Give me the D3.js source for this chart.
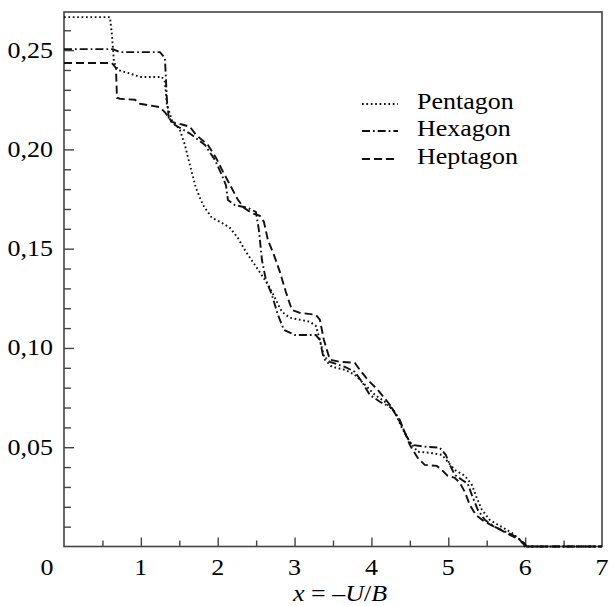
<!DOCTYPE html>
<html lang="en">
    <head>
        <meta charset="utf-8">
        <title>Polygon curves</title>
        <style>
            body {
                margin: 0;
                background-color: white;
            }
            svg {
                display: block;
                font-family: "Liberation Serif", "Times New Roman", serif;
            }
        </style>
        <script src="https://d3js.org/d3.v7.min.js"></script>
    </head>
    <body></body>
    <script>

        // values
        let pentagonX = [0, 0.598, 0.624, 0.65, 0.702, 0.832, 0.988, 1.274, 1.313, 1.339, 1.404, 1.508, 1.573, 1.638, 1.716, 1.808, 1.925, 2.055, 2.159, 2.263, 2.367, 2.484, 2.588, 2.679, 2.757, 2.835, 2.939, 3.069, 3.199, 3.277, 3.329, 3.394, 3.485, 3.654, 3.784, 3.914, 4.044, 4.174, 4.304, 4.395, 4.499, 4.603, 4.759, 4.915, 4.993, 5.084, 5.215, 5.306, 5.371, 5.436, 5.54, 5.67, 5.826, 5.93, 5.995, 7]
        let pentagonY = [0.2666, 0.2666, 0.2576, 0.244, 0.24, 0.2385, 0.2365, 0.2365, 0.234, 0.2224, 0.2148, 0.2098, 0.2022, 0.1922, 0.1806, 0.172, 0.1655, 0.163, 0.1605, 0.1554, 0.1484, 0.1418, 0.1358, 0.1303, 0.1242, 0.1182, 0.1152, 0.1142, 0.1132, 0.1111, 0.1041, 0.0941, 0.0905, 0.089, 0.0865, 0.0815, 0.0764, 0.0729, 0.0678, 0.0598, 0.0527, 0.0477, 0.0472, 0.0462, 0.0427, 0.0386, 0.0356, 0.0311, 0.0245, 0.0185, 0.0134, 0.0104, 0.0069, 0.0034, 0, 0]

        let hexagonX = [0, 0.637, 0.728, 1.248, 1.313, 1.339, 1.365, 1.443, 1.638, 1.834, 1.964, 2.055, 2.107, 2.133, 2.224, 2.393, 2.497, 2.536, 2.575, 2.627, 2.705, 2.783, 2.861, 3.004, 3.277, 3.329, 3.368, 3.459, 3.654, 3.784, 3.875, 3.979, 4.109, 4.265, 4.369, 4.447, 4.525, 4.694, 4.889, 4.967, 5.02, 5.084, 5.176, 5.254, 5.306, 5.384, 5.475, 5.605, 5.774, 5.904, 5.995, 6.02, 7]
        let hexagonY = [0.2505, 0.2505, 0.249, 0.249, 0.246, 0.225, 0.215, 0.2123, 0.208, 0.2022, 0.1947, 0.187, 0.182, 0.1745, 0.172, 0.1705, 0.1685, 0.1594, 0.1444, 0.1343, 0.1267, 0.1167, 0.1091, 0.1065, 0.1065, 0.1041, 0.0965, 0.093, 0.0905, 0.088, 0.083, 0.0764, 0.0729, 0.0698, 0.0638, 0.0562, 0.0512, 0.0503, 0.0498, 0.0462, 0.0411, 0.0361, 0.0336, 0.0316, 0.026, 0.0185, 0.0134, 0.0099, 0.0069, 0.0044, 0.0014, 0, 0]

        let heptagonX = [0, 0.624, 0.676, 0.689, 0.728, 0.923, 0.988, 1.248, 1.313, 1.404, 1.547, 1.638, 1.716, 1.873, 1.977, 2.068, 2.159, 2.263, 2.341, 2.445, 2.549, 2.601, 2.653, 2.731, 2.809, 2.887, 2.965, 3.069, 3.277, 3.329, 3.381, 3.459, 3.589, 3.784, 3.849, 3.953, 4.083, 4.239, 4.343, 4.421, 4.499, 4.603, 4.694, 4.85, 4.915, 4.993, 5.084, 5.15, 5.215, 5.28, 5.358, 5.475, 5.605, 5.8, 5.93, 6.008, 7]
        let heptagonY = [0.2435, 0.2435, 0.241, 0.226, 0.2255, 0.225, 0.223, 0.2213, 0.2187, 0.2138, 0.2124, 0.2114, 0.2074, 0.2022, 0.1958, 0.1888, 0.1822, 0.1746, 0.1706, 0.1679, 0.1665, 0.1635, 0.1544, 0.1469, 0.1383, 0.1282, 0.1192, 0.1177, 0.1167, 0.1142, 0.1041, 0.0941, 0.093, 0.0925, 0.089, 0.0839, 0.0789, 0.0714, 0.0648, 0.0588, 0.0512, 0.0446, 0.0411, 0.0406, 0.0386, 0.0356, 0.0346, 0.0321, 0.0275, 0.021, 0.0159, 0.0124, 0.0099, 0.0059, 0.0034, 0, 0]

        let seriesNames = ["Pentagon", "Hexagon", "Heptagon"]
        let xTickLabels = [1, 2, 3, 4, 5, 6, 7]
        let yTickLabels = ["0,05", "0,10", "0,15", "0,20", "0,25"]
        let yTickValues = [0.05, 0.10, 0.15, 0.20, 0.25]

        let width = 609
        let height = 606
        let plotLeft = 64
        let plotRight = 602
        let plotTop = 12
        let plotBottom = 546.5
        let stretch = 1.13
        let svg, xScale, yScale

        let dashes = ["1.7 2.7", "8 3 1.7 3", "8 4"]

        let drawCanvas = () => {
            svg = d3.select("body")
                .append("svg")
                .attr("width", width)
                .attr("height", height)

            xScale = d3.scaleLinear()
                .domain([0, 7])
                .range([plotLeft, plotRight])
            yScale = d3.scaleLinear()
                .domain([0, 0.2692])
                .range([plotBottom, plotTop])
        }

        // stretched serif text, like the scanned figure
        let label = (x, y, anchor) => {
            return svg.append("g")
                .attr("transform", `translate(${x},${y}) scale(${stretch},1)`)
                .append("text")
                .attr("text-anchor", anchor)
                .attr("font-size", 23)
                .attr("fill", "#000")
        }

        let generateAxes = () => {
            let xMinor = d3.axisBottom(xScale)
                .tickValues(d3.range(0.5, 7, 1))
                .tickSize(-6)
                .tickFormat("")
            let xMajor = d3.axisBottom(xScale)
                .tickValues(d3.range(1, 7, 1))
                .tickSize(-9)
                .tickFormat("")
            let yMinor = d3.axisLeft(yScale)
                .tickValues(d3.range(1, 27).filter((d) => d % 5 != 0).map((d) => d / 100))
                .tickSize(-7)
                .tickFormat("")
            let yMajor = d3.axisLeft(yScale)
                .tickValues(yTickValues)
                .tickSize(-10)
                .tickFormat("")

            let axes = [
                [xMinor, `translate(0,${plotBottom})`],
                [xMajor, `translate(0,${plotBottom})`],
                [yMinor, `translate(${plotLeft},0)`],
                [yMajor, `translate(${plotLeft},0)`]
            ]
            axes.forEach(([axis, tr]) => {
                let g = svg.append("g")
                    .attr("transform", tr)
                    .call(axis)
                g.select(".domain").remove()
                g.selectAll("line")
                    .attr("stroke", "#444")
                    .attr("stroke-width", 1.4)
            })

            svg.append("rect")
                .attr("x", plotLeft)
                .attr("y", plotTop)
                .attr("width", plotRight - plotLeft)
                .attr("height", plotBottom - plotTop)
                .attr("fill", "none")
                .attr("stroke", "#444")
                .attr("stroke-width", 1.6)

            xTickLabels.forEach((d) => {
                label(xScale(d), 575, "middle").text(d)
            })
            label(47, 575, "middle").text("0")

            yTickValues.forEach((d, i) => {
                label(53, yScale(d) + 7.5, "end").text(yTickLabels[i])
            })

            let title = label(340, 601, "middle")
            title.append("tspan").attr("font-style", "italic").text("x")
            title.append("tspan").text(" = –")
            title.append("tspan").attr("font-style", "italic").text("U")
            title.append("tspan").text("/")
            title.append("tspan").attr("font-style", "italic").text("B")
        }

        let generateLines = () => {
            let series = [
                pentagonX.map((d, i) => [d, pentagonY[i]]),
                hexagonX.map((d, i) => [d, hexagonY[i]]),
                heptagonX.map((d, i) => [d, heptagonY[i]])
            ]
            let line = d3.line()
                .x((d) => xScale(d[0]))
                .y((d) => yScale(d[1]))

            svg.selectAll(".curve")
                .data(series)
                .enter()
                .append("path")
                .attr("class", "curve")
                .attr("d", line)
                .attr("fill", "none")
                .attr("stroke", "#111")
                .attr("stroke-width", 1.9)
                .attr("stroke-dasharray", (d, i) => dashes[i])
        }

        let addLegend = () => {
            let rows = [104, 131, 159]
            seriesNames.forEach((name, i) => {
                svg.append("line")
                    .attr("x1", 362)
                    .attr("x2", 398)
                    .attr("y1", rows[i])
                    .attr("y2", rows[i])
                    .attr("stroke", "#111")
                    .attr("stroke-width", 1.9)
                    .attr("stroke-dasharray", dashes[i])
                label(417, rows[i] + 5, "start").text(name)
            })
        }

        drawCanvas()
        generateAxes()
        generateLines()
        addLegend()
    </script>
</html>
